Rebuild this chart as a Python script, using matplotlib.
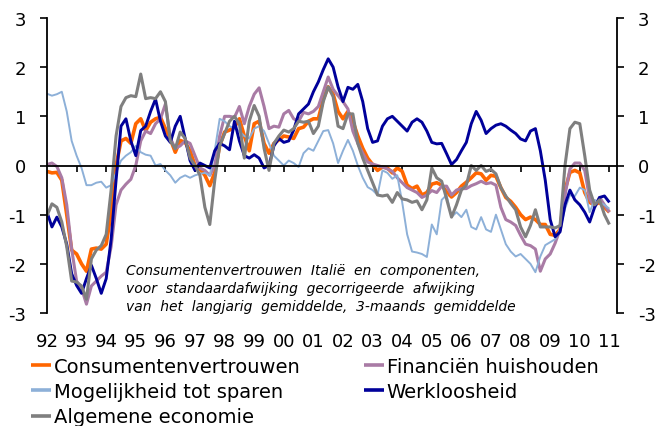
import numpy as np
import matplotlib
matplotlib.use("Agg")
import matplotlib.pyplot as plt

# ---- data (bimonthly observations starting Jan 1992) ----
start_year = 1992.0
step = 1.0 / 6.0

consument = [
    -0.12, -0.15, -0.14, -0.3, -1.0, -1.72, -1.8, -2.0, -2.15, -1.7, -1.68, -1.7, -1.6, -0.95,
    0.0, 0.5, 0.55, 0.45, 0.85, 0.95, 0.71, 0.88, 0.95, 0.98, 0.75, 0.54, 0.27, 0.51, 0.47,
    0.3, 0.0, -0.07, -0.2, -0.41, -0.14, 0.4, 0.68,
    0.72, 0.78, 0.95, 0.6, 0.3, 0.85, 0.9, 0.45, 0.25, 0.45, 0.52, 0.6, 0.58, 0.55, 0.75,
    0.78, 0.9, 0.95, 0.95, 1.35, 1.6, 1.45, 1.1, 0.95, 1.1, 0.9, 0.6, 0.35, 0.15, 0.02,
    -0.1, -0.03, -0.05, -0.15, -0.05, -0.12, -0.4, -0.47, -0.42, -0.6, -0.55,
    -0.38, -0.35, -0.4, -0.54, -0.64, -0.55, -0.42, -0.34, -0.25, -0.15, -0.17, -0.3, -0.2,
    -0.22, -0.45, -0.65, -0.73, -0.85, -1.0, -1.1, -1.05, -1.1, -1.2, -1.2, -1.4, -1.42,
    -1.3, -0.5, -0.14, -0.1, -0.15, -0.55, -0.75, -0.8, -0.75, -0.85, -0.95,
]

financien = [
    0.02, 0.05, -0.02, -0.25, -0.8, -1.7, -2.35, -2.5, -2.82, -2.45, -2.35, -2.25, -2.17, -1.65,
    -0.8, -0.5, -0.38, -0.28, 0.0, 0.5, 0.7, 0.65, 0.85, 0.95, 1.25, 0.55, 0.35, 0.4, 0.5,
    0.45, 0.2, -0.05, -0.1, -0.2, 0.0, 0.6, 1.0,
    1.0, 0.98, 1.2, 0.85, 1.2, 1.45, 1.58, 1.2, 0.75, 0.8, 0.78, 1.05, 1.12, 0.95, 0.9,
    1.08, 1.05, 1.1, 1.2, 1.5, 1.8, 1.55, 1.42, 1.3, 1.15, 0.7, 0.45, 0.25, 0.07, 0.03,
    0.0, -0.03, -0.07, -0.12, -0.25, -0.35, -0.45, -0.5, -0.55, -0.65, -0.6,
    -0.51, -0.55, -0.42, -0.42, -0.6, -0.5, -0.47, -0.47, -0.41, -0.37, -0.32, -0.37, -0.35,
    -0.4, -0.85, -1.1, -1.15, -1.22, -1.42, -1.6, -1.63, -1.7, -2.15, -1.9, -1.8, -1.58,
    -1.3, -0.6, -0.07, 0.05, 0.05, -0.1, -0.68, -0.85, -0.65, -0.8, -0.95,
]

sparen = [
    1.46, 1.42, 1.45, 1.5, 1.1, 0.5, 0.2, -0.05, -0.4, -0.4, -0.35, -0.33, -0.45, -0.4,
    -0.15, 0.1, 0.2, 0.27, 0.4, 0.27, 0.22, 0.2, 0.0, 0.03, -0.1, -0.2, -0.35, -0.25, -0.2,
    -0.25, -0.2, -0.17, -0.15, -0.2, 0.3, 0.95, 0.9,
    0.8, 0.75, 0.7, 0.6, 0.55, 0.75, 0.8, 0.7, 0.45, 0.2, 0.1, 0.0, 0.1, 0.05, -0.03,
    0.25, 0.35, 0.3, 0.5, 0.7, 0.72, 0.45, 0.05, 0.3, 0.52, 0.3, 0.0, -0.25, -0.44, -0.5,
    -0.6, -0.1, -0.15, -0.27, -0.2, -0.75, -1.4, -1.75, -1.77, -1.8, -1.86,
    -1.2, -1.4, -0.7, -0.6, -1.05, -0.95, -1.05, -0.9, -1.25, -1.3, -1.05, -1.3, -1.35,
    -1.0, -1.3, -1.6, -1.75, -1.85, -1.8, -1.9, -2.0, -2.17, -1.85, -1.62, -1.56, -1.5,
    -1.3, -0.88, -0.6, -0.62, -0.45, -0.5, -0.95, -0.7, -0.75, -0.8, -0.88,
]

werkloosheid = [
    -0.95, -1.25, -1.05, -1.25, -1.6, -2.2, -2.44, -2.6, -2.3, -2.03, -2.3, -2.6, -2.3, -1.5,
    -0.3, 0.8, 0.95, 0.5, 0.2, 0.71, 0.8, 1.1, 1.35, 0.9, 0.6, 0.47, 0.8, 1.0, 0.55,
    0.1, -0.1, 0.05, 0.0, -0.05, 0.3, 0.45, 0.4,
    0.32, 0.9, 0.5, 0.2, 0.15, 0.22, 0.15, -0.05, 0.0, 0.4, 0.55, 0.47, 0.5, 0.72, 1.05,
    1.15, 1.25, 1.5, 1.7, 1.95, 2.17, 2.0, 1.6, 1.3, 1.59, 1.55, 1.65, 1.3, 0.75, 0.47,
    0.5, 0.8, 0.95, 1.0, 0.9, 0.8, 0.7, 0.88, 0.95, 0.88, 0.7,
    0.47, 0.44, 0.45, 0.24, 0.02, 0.12, 0.3, 0.47, 0.85, 1.1, 0.92, 0.65, 0.75,
    0.82, 0.85, 0.8, 0.72, 0.65, 0.54, 0.5, 0.7, 0.75, 0.3, -0.3, -1.1, -1.45,
    -1.35, -0.8, -0.5, -0.7, -0.8, -0.95, -1.15, -0.85, -0.65, -0.62, -0.75,
]

economie = [
    -1.02, -0.78, -0.85, -1.15, -1.65, -2.35, -2.37, -2.45, -2.72, -1.9, -1.72, -1.63, -1.4, -0.5,
    0.6, 1.2, 1.38, 1.42, 1.4, 1.86, 1.36, 1.38, 1.36, 1.5, 1.3, 0.5, 0.34, 0.68, 0.55,
    0.15, 0.0, -0.2, -0.85, -1.2, -0.3, 0.4, 0.65,
    0.9, 1.0, 0.85, 0.15, 0.9, 1.22, 1.0, 0.35, -0.1, 0.45, 0.6, 0.72, 0.68, 0.75, 0.9,
    0.88, 0.9, 0.65, 0.8, 1.3, 1.6, 1.4, 0.8, 0.75, 1.05, 1.05, 0.45, 0.15, -0.1, -0.35,
    -0.6, -0.62, -0.6, -0.75, -0.55, -0.68, -0.7, -0.75, -0.72, -0.9, -0.7,
    -0.05, -0.25, -0.32, -0.68, -1.05, -0.8, -0.5, -0.4, 0.0, -0.1, 0.0, -0.12, -0.08,
    -0.17, -0.45, -0.62, -0.77, -0.9, -1.25, -1.45, -1.22, -0.9, -1.25, -1.25, -1.25, -1.27,
    -1.22, 0.0, 0.75, 0.88, 0.85, 0.2, -0.5, -0.8, -0.7, -1.0, -1.2,
]

year_ticks = list(range(1992, 2012))
year_labels = ["92", "93", "94", "95", "96", "97", "98", "99", "00", "01",
               "02", "03", "04", "05", "06", "07", "08", "09", "10", "11"]
y_ticks = [-3, -2, -1, 0, 1, 2, 3]

names = ["Consumentenvertrouwen", "Financiën huishouden", "Mogelijkheid tot sparen",
         "Werkloosheid", "Algemene economie"]
series = [consument, financien, sparen, werkloosheid, economie]
colors = ["#FF6600", "#A97BA5", "#8DB0D8", "#00009A", "#7F7F7F"]
widths = [2.6, 2.2, 1.4, 2.1, 2.2]

note = ["Consumentenvertrouwen  Italië  en  componenten,",
        "voor  standaardafwijking  gecorrigeerde  afwijking",
        "van  het  langjarig  gemiddelde,  3-maands  gemiddelde"]

# ---- figure ----
W, H = 664, 427
fig = plt.figure(figsize=(W / 100, H / 100), dpi=100)
L, R, T, B = 47, 617, 19, 314
ax = fig.add_axes([L / W, 1 - B / H, (R - L) / W, (B - T) / H])

px_per_year = 29.6
ax.set_xlim(start_year, start_year + (R - L) / px_per_year)
ax.set_ylim(-3, 3)

lines = []
for vals, nm, c, lw in zip(series, names, colors, widths):
    t = start_year + np.arange(len(vals)) * step
    ln, = ax.plot(t, vals, color=c, lw=lw, label=nm, solid_joinstyle="round",
                  solid_capstyle="butt")
    lines.append(ln)

# zero line with ticks
ax.spines["top"].set_visible(False)
ax.spines["bottom"].set_position(("data", 0))
ax.spines["bottom"].set_linewidth(1.3)
ax.spines["left"].set_linewidth(1.3)
ax.spines["right"].set_linewidth(1.3)
ax.set_xticks(year_ticks[1:])
ax.tick_params(axis="x", direction="out", length=4, width=1.2, labelbottom=False)

# year labels along bottom
axl = ax.twiny()
axl.set_xlim(ax.get_xlim())
axl.xaxis.set_ticks_position("bottom")
axl.set_xticks(year_ticks)
axl.set_xticklabels(year_labels)
axl.tick_params(axis="x", length=0, pad=14, labelsize=13)
for s in axl.spines.values():
    s.set_visible(False)

ax.set_yticks(y_ticks)
ax.set_yticklabels([str(v) for v in y_ticks])
ax.tick_params(axis="y", which="both", left=True, right=True, labelleft=True,
               labelright=True, direction="out", length=5, width=1.2, pad=10,
               labelsize=13)

# annotation
for i, line in enumerate(note):
    fig.text(126 / W, 1 - (271 + 18 * i) / H, line, fontsize=10, style="italic",
             va="center", ha="left")

# legends
leg_kw = dict(loc="upper left", frameon=False, fontsize=14, handlelength=1.05,
              handletextpad=0.12, labelspacing=0.32, borderpad=0, borderaxespad=0)
l1 = fig.legend([lines[0], lines[2], lines[4]], [names[0], names[2], names[4]],
                bbox_to_anchor=(31 / W, 1 - 358 / H), **leg_kw)
l2 = fig.legend([lines[1], lines[3]], [names[1], names[3]],
                bbox_to_anchor=(364 / W, 1 - 358 / H), **leg_kw)
for lg in (l1, l2):
    for h in lg.legend_handles:
        h.set_linewidth(2.6)

fig.savefig("out.png", dpi=100)
